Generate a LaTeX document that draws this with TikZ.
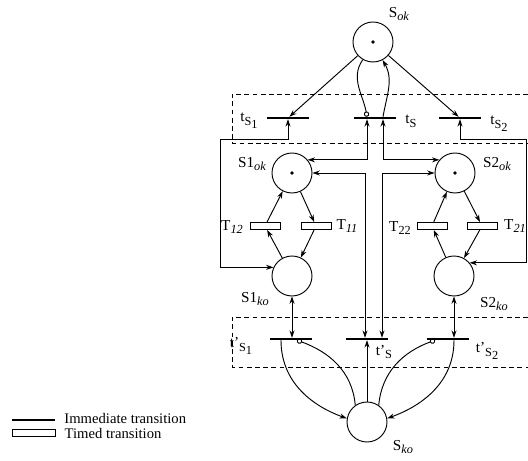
\documentclass[tikz,border=0pt]{standalone}
\usepackage{fontspec}
\setmainfont{Liberation Serif}
\usepackage{tikz}
\usetikzlibrary{arrows.meta, positioning, calc}
\tikzstyle{place} = [circle, draw, line width=0.8pt, minimum size=1.2cm, inner sep=0pt]
\tikzstyle{marked} = [place, path picture={\fill (path picture bounding box.center) circle (1.6pt);}]
\tikzstyle{imm} = [rectangle, fill=black, minimum width=1.26cm, minimum height=0.06cm, inner sep=0pt]
\tikzstyle{timed} = [rectangle, draw, line width=0.8pt, minimum width=0.9cm, minimum height=0.21cm, inner sep=0pt]
\tikzstyle{arc} = [-{Stealth[length=2.2mm, width=1.5mm]}, line width=0.8pt]
\tikzstyle{test} = [{Stealth[length=2.2mm, width=1.5mm]}-{Stealth[length=2.2mm, width=1.5mm]}, line width=0.8pt]
\tikzstyle{inhib} = [-{Circle[open, length=1.6mm]}, line width=0.8pt]
\tikzstyle{box} = [dash pattern=on 4pt off 3pt, line width=0.6pt]
\tikzstyle{lbl} = [inner sep=0pt]
\newcommand{\idx}[1]{\raisebox{-0.55ex}{\fontsize{10.5}{11}\selectfont #1}}

\begin{document}
\begin{tikzpicture}[x=0.03cm, y=-0.03cm, font=\fontsize{13}{15}\selectfont]
    \useasboundingbox (0,0) rectangle (528,461);

    % Dashed frames
    \draw[box] (528,94) -- (232,94) -- (232,143) -- (528,143);
    \draw[box] (528,317) -- (232,317) -- (232,367) -- (528,367);

    % Places
    \node[marked] (Sok) at (373,42) {};
    \node[marked] (S1ok) at (292,173) {};
    \node[marked] (S2ok) at (455,173) {};
    \node[place] (S1ko) at (292,276) {};
    \node[place] (S2ko) at (454,276) {};
    \node[place] (Sko) at (367,422) {};

    % Immediate transitions
    \node[imm] (tS1) at (288,118) {};
    \node[imm] (tS) at (375,118) {};
    \node[imm] (tS2) at (460,118) {};
    \node[imm] (tSp1) at (291,339) {};
    \node[imm] (tSp) at (367,339) {};
    \node[imm] (tSp2) at (448,339) {};

    % Timed transitions
    \node[timed] (T12) at (265,226) {};
    \node[timed] (T11) at (316,226) {};
    \node[timed] (T22) at (432,226) {};
    \node[timed] (T21) at (482,226) {};

    % Labels
    \node[lbl] (Soklbl) at (399,14) {S\idx{\textit{ok}}};
    \node[lbl] (tS1lbl) at (249,121) {t\idx{S\idx{1}}};
    \node[lbl] (tSlbl) at (411,121) {t\idx{S}};
    \node[lbl] (tS2lbl) at (499,124) {t\idx{S\idx{2}}};
    \node[lbl] (S1oklbl) at (252,164) {S1\idx{\textit{ok}}};
    \node[lbl] (S2oklbl) at (497,164) {S2\idx{\textit{ok}}};
    \node[lbl] (T12lbl) at (232,227) {T\idx{\textit{12}}};
    \node[lbl] (T11lbl) at (347,226) {T\idx{\textit{11}}};
    \node[lbl] (T22lbl) at (400,228) {T\idx{22}};
    \node[lbl] (T21lbl) at (515,226) {T\idx{\textit{21}}};
    \node[lbl] (S1kolbl) at (255,299) {S1\idx{\textit{ko}}};
    \node[lbl] (S2kolbl) at (494,304) {S2\idx{\textit{ko}}};
    \node[lbl] (tSp1lbl) at (241,346) {t'\idx{S\idx{1}}};
    \node[lbl] (tSplbl) at (384,352) {t'\idx{S}};
    \node[lbl] (tSp2lbl) at (487,351) {t'\idx{S\idx{2}}};
    \node[lbl] (Skolbl) at (403,447) {S\idx{\textit{ko}}};

    % Arcs of the upper frame
    \draw[arc] (Sok) -- (tS1);
    \draw[arc] (Sok) -- (tS2);
    \draw[inhib] (Sok.240) to[out=235, in=100] ($(tS.north)+(-8,0)$);
    \draw[arc] ($(tS.north)+(8,0)$) to[out=80, in=300] (Sok.298);
    \draw[test] (tS1.south) -- ++(0,20) -- ++(-68,0) |- (S1ko.155);
    \draw[test] (tS2.south) -- ++(0,20) -- ++(66,0) |- (S2ko.40);
    \draw[test] ($(tS.south)+(-8,0)$) |- (S1ok.40);
    \draw[test] ($(tS.south)+(8,0)$) |- (S2ok.140);

    % Component cycles
    \draw[arc] (S1ok) -- (T11);
    \draw[arc] (T11) -- (S1ko);
    \draw[arc] (S1ko) -- (T12);
    \draw[arc] (T12) -- (S1ok);
    \draw[arc] (S2ok) -- (T21);
    \draw[arc] (T21) -- (S2ko);
    \draw[arc] (S2ko) -- (T22);
    \draw[arc] (T22) -- (S2ok);

    % Arcs of the lower frame
    \draw[test] (S1ok.east) -| ($(tSp.north)+(-2,0)$);
    \draw[test] (S2ok.west) -| ($(tSp.north)+(15,0)$);
    \draw[test] (S1ko.south) -- (S1ko.south |- tSp1.north);
    \draw[test] (S2ko.south) -- (S2ko.south |- tSp2.north);
    \draw[arc] (Sko) -- (tSp);
    \draw[arc] ($(tSp1.south)+(-10,0)$) to[out=270, in=160] (Sko.170);
    \draw[inhib] (Sko.125) to[out=95, in=-20] ($(tSp1.south)+(6,0)$);
    \draw[arc] (S2ko.south |- tSp2.south) to[out=270, in=20] (Sko.10);
    \draw[inhib] (Sko.55) to[out=85, in=200] ($(tSp2.south)+(-13,0)$);

    % Legend
    \node[imm, minimum width=1.29cm] (legimm) at (33.5,420) {};
    \node[lbl, anchor=base west, font=\fontsize{12.5}{14}\selectfont] (legimmtxt) at ($(legimm.east)+(9,4)$) {Immediate transition};
    \node[timed, minimum width=1.29cm, minimum height=0.19cm] (legtim) at (33.5,433) {};
    \node[lbl, anchor=base west, font=\fontsize{12.5}{14}\selectfont] (legtimtxt) at ($(legtim.east)+(9,6)$) {Timed transition};
\end{tikzpicture}
\end{document}
